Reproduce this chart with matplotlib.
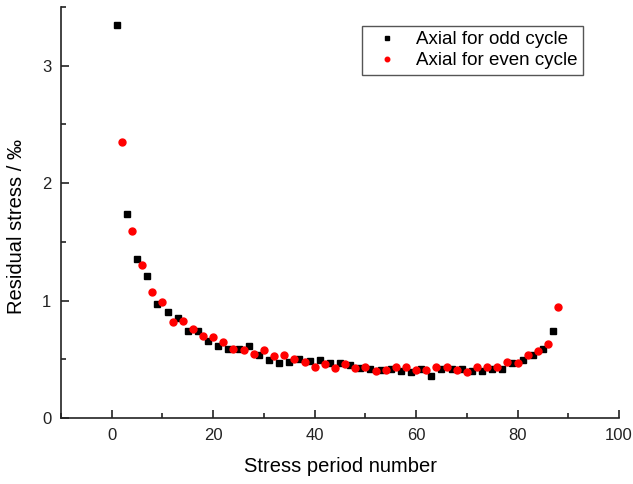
import matplotlib
matplotlib.use('Agg')
import matplotlib.pyplot as plt
from matplotlib.ticker import MultipleLocator

plt.rcParams['font.family'] = ['Liberation Sans', 'DejaVu Sans']

# odd cycles 1,3,...,87
odd_x = list(range(1, 88, 2))
odd_y = [3.35, 1.737, 1.35, 1.21, 0.975, 0.904, 0.85, 0.743, 0.743, 0.657,
         0.612, 0.587, 0.587, 0.613, 0.535, 0.493, 0.465, 0.473, 0.502, 0.487,
         0.496, 0.465, 0.47, 0.45, 0.425, 0.417, 0.408, 0.418, 0.40, 0.394,
         0.417, 0.36, 0.419, 0.419, 0.417, 0.403, 0.403, 0.419, 0.417, 0.465,
         0.49, 0.536, 0.584, 0.743]

# even cycles 2,4,...,88
even_x = list(range(2, 89, 2))
even_y = [2.35, 1.593, 1.307, 1.074, 0.986, 0.816, 0.828, 0.757, 0.697, 0.686,
          0.646, 0.587, 0.578, 0.546, 0.576, 0.527, 0.536, 0.504, 0.476, 0.436,
          0.456, 0.428, 0.459, 0.428, 0.436, 0.397, 0.408, 0.431, 0.431, 0.408,
          0.408, 0.431, 0.431, 0.408, 0.394, 0.431, 0.431, 0.431, 0.479, 0.465,
          0.538, 0.57, 0.627, 0.947]

fig = plt.figure(figsize=(6.33, 4.84), dpi=100)
ax = fig.add_axes([0.0964, 0.1364, 0.8815, 0.849])

ax.plot(odd_x, odd_y, 's', color='black', markersize=5, label='Axial for odd cycle')
ax.plot(even_x, even_y, 'o', color='red', markersize=5, label='Axial for even cycle')

ax.set_xlim(-10, 100)
ax.set_ylim(0, 3.5)
ax.xaxis.set_major_locator(MultipleLocator(20))
ax.xaxis.set_minor_locator(MultipleLocator(10))
ax.yaxis.set_major_locator(MultipleLocator(1))
ax.yaxis.set_minor_locator(MultipleLocator(0.5))

for s in ['top', 'right']:
    ax.spines[s].set_visible(False)
for s in ['left', 'bottom']:
    ax.spines[s].set_linewidth(1.2)
    ax.spines[s].set_color('#222222')

ax.tick_params(which='major', direction='in', length=6, width=1.2, labelsize=12, pad=7,
               colors='#222222')
ax.tick_params(which='minor', direction='in', length=3.5, width=1.2, colors='#222222')

ax.set_xlabel('Stress period number', fontsize=14.5, labelpad=10)
ax.set_ylabel('Residual stress / ‰', fontsize=14.5, labelpad=10)
ax.yaxis.set_label_coords(-0.062, 0.465)

leg = ax.legend(loc='upper left', bbox_to_anchor=(0.539, 0.955), fontsize=13.5,
                fancybox=False, framealpha=1, edgecolor='#555555', handletextpad=0.5,
                borderpad=0.3, labelspacing=0.2, handlelength=2.1, markerscale=0.65,
                borderaxespad=0)
leg.get_frame().set_linewidth(1.0)

fig.savefig('out.png', dpi=100)
